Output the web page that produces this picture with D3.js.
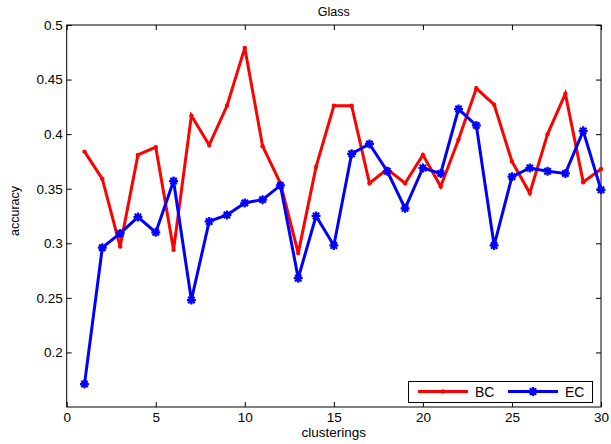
<!DOCTYPE html>
<html>
<head>
<meta charset="utf-8">
<script src="https://cdn.jsdelivr.net/npm/d3@7"></script>
<style>
  html, body { margin: 0; padding: 0; background: #fff; }
  svg { display: block; font-family: "Liberation Sans", Arial, Helvetica, sans-serif; }
</style>
</head>
<body>
<svg id="chart" width="611" height="444"></svg>
<script>
// Accuracy of the two clustering ensembles on the Glass data set
const clusterings = d3.range(1, 31);
const bcValues = [0.384, 0.359, 0.297, 0.381, 0.388, 0.294, 0.417, 0.390, 0.426, 0.479,
                  0.389, 0.355, 0.291, 0.370, 0.426, 0.426, 0.355, 0.368, 0.355, 0.381,
                  0.352, 0.395, 0.442, 0.427, 0.375, 0.346, 0.400, 0.437, 0.356, 0.368];
const ecValues = [0.171, 0.296, 0.309, 0.324, 0.310, 0.357, 0.248, 0.320, 0.326, 0.337,
                  0.340, 0.353, 0.268, 0.325, 0.298, 0.382, 0.391, 0.366, 0.332, 0.369,
                  0.364, 0.423, 0.408, 0.298, 0.361, 0.369, 0.366, 0.364, 0.403, 0.349];
const xTicks = [0, 5, 10, 15, 20, 25, 30];
const yTicks = [0.2, 0.25, 0.3, 0.35, 0.4, 0.45, 0.5];
const seriesNames = ["BC", "EC"];
const seriesColors = ["#ff0000", "#0000ff"];

const svg = d3.select("#chart");
const plotL = 66.7, plotR = 601, plotT = 25, plotB = 407;

const x = d3.scaleLinear().domain([0, 30]).range([plotL, plotR]);
const y = d3.scaleLinear().domain([0.15, 0.5]).range([plotB, plotT]);

// Plot frame
svg.append("rect")
  .attr("x", plotL).attr("y", plotT)
  .attr("width", plotR - plotL).attr("height", plotB - plotT)
  .attr("fill", "none").attr("stroke", "#000").attr("stroke-width", 1);

const tickLen = 5;
const fmtY = d => String(+d.toFixed(2));

// Bottom axis with labels, inward ticks
const xAxis = d3.axisBottom(x).tickValues(xTicks).tickSizeInner(-tickLen).tickSizeOuter(0).tickPadding(5).tickFormat(d3.format("d"));
const gx = svg.append("g").attr("transform", `translate(0,${plotB})`).call(xAxis);
// Top mirrored ticks
const gxt = svg.append("g").attr("transform", `translate(0,${plotT})`)
  .call(d3.axisTop(x).tickValues(xTicks).tickSizeInner(-tickLen).tickSizeOuter(0).tickFormat(""));
// Left axis with labels
const yAxis = d3.axisLeft(y).tickValues(yTicks).tickSizeInner(-tickLen).tickSizeOuter(0).tickPadding(4).tickFormat(fmtY);
const gy = svg.append("g").attr("transform", `translate(${plotL},0)`).call(yAxis);
// Right mirrored ticks
const gyr = svg.append("g").attr("transform", `translate(${plotR},0)`)
  .call(d3.axisRight(y).tickValues(yTicks).tickSizeInner(-tickLen).tickSizeOuter(0).tickFormat(""));

[gx, gxt, gy, gyr].forEach(g => {
  g.select(".domain").remove();
  g.selectAll("line").attr("stroke", "#000");
  g.selectAll("text").attr("font-size", 13.5).attr("fill", "#000")
    .attr("font-family", "'Liberation Sans', Arial, sans-serif");
});

// Titles
svg.append("text").attr("x", (plotL + plotR) / 2).attr("y", 16)
  .attr("text-anchor", "middle").attr("font-size", 12.5).text("Glass");
svg.append("text").attr("x", (plotL + plotR) / 2).attr("y", 437)
  .attr("text-anchor", "middle").attr("font-size", 13.5).text("clusterings");
svg.append("text").attr("transform", `translate(19,211) rotate(-90)`)
  .attr("text-anchor", "middle").attr("font-size", 12.5).text("accuracy");

// Lines
const line = d3.line().x((d, i) => x(clusterings[i])).y(d => y(d));
svg.append("path").datum(bcValues).attr("d", line)
  .attr("fill", "none").attr("stroke", seriesColors[0]).attr("stroke-width", 3).attr("stroke-linejoin", "miter");
svg.append("path").datum(ecValues).attr("d", line)
  .attr("fill", "none").attr("stroke", seriesColors[1]).attr("stroke-width", 3).attr("stroke-linejoin", "miter");

// Markers: dots for BC, asterisks for EC
function dot(g, cx, cy, color) {
  g.append("circle").attr("cx", cx).attr("cy", cy).attr("r", 2.2).attr("fill", color);
}
function star(g, cx, cy, color) {
  const s = 4.5, d = 3.2;
  const p = `M${cx - s},${cy}L${cx + s},${cy}M${cx},${cy - s}L${cx},${cy + s}` +
            `M${cx - d},${cy - d}L${cx + d},${cy + d}M${cx - d},${cy + d}L${cx + d},${cy - d}`;
  g.append("path").attr("d", p).attr("stroke", color).attr("stroke-width", 2.2).attr("fill", "none");
}
const gm = svg.append("g");
bcValues.forEach((v, i) => dot(gm, x(clusterings[i]), y(v), seriesColors[0]));
ecValues.forEach((v, i) => star(gm, x(clusterings[i]), y(v), seriesColors[1]));

// Legend
const lg = svg.append("g");
lg.append("rect").attr("x", 408.5).attr("y", 381.5).attr("width", 184).attr("height", 21)
  .attr("fill", "#fff").attr("stroke", "#000").attr("stroke-width", 1);
const legendItems = [
  { name: seriesNames[0], color: seriesColors[0], x0: 418, marker: dot },
  { name: seriesNames[1], color: seriesColors[1], x0: 508, marker: star }
];
legendItems.forEach(it => {
  lg.append("line").attr("x1", it.x0).attr("x2", it.x0 + 50).attr("y1", 391.5).attr("y2", 391.5)
    .attr("stroke", it.color).attr("stroke-width", 3);
  it.marker(lg, it.x0 + 25, 391.5, it.color);
  lg.append("text").attr("x", it.x0 + 57).attr("y", 397).attr("font-size", 14).text(it.name);
});
</script>
</body>
</html>
